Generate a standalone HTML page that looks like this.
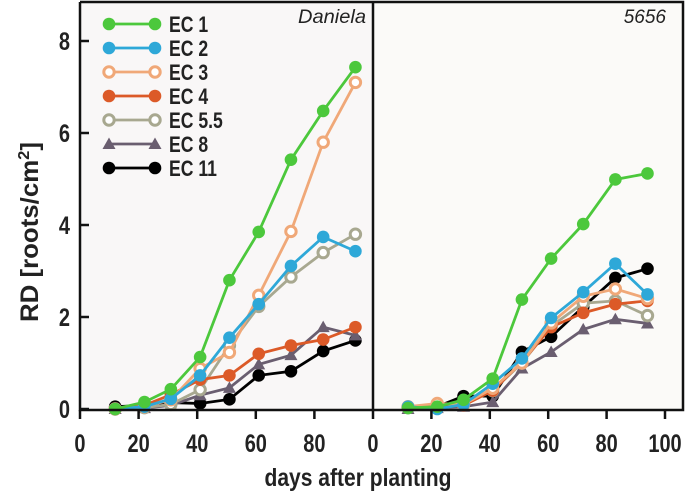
<!DOCTYPE html>
<html><head><meta charset="utf-8"><style>
html,body{margin:0;padding:0;background:#fff;}
svg{display:block;font-family:"Liberation Sans",Arial,sans-serif;}
</style></head><body>
<svg id="chart" width="685" height="496" viewBox="0 0 685 496">
<rect x="80" y="2" width="293" height="408" fill="#f9f7f7"/>
<rect x="373" y="2" width="310" height="408" fill="#fbfaf8"/>
<g id="marks"></g>
<g id="axes" stroke="#111" stroke-width="2.5" fill="none">
<path d="M80,2 V410 H683 V2 H80"/>
<line x1="373" y1="2" x2="373" y2="410"/>
</g>
<g id="ticks"></g>
<text x="366" y="23" text-anchor="end" font-style="italic" font-size="19" fill="#222" textLength="68" lengthAdjust="spacingAndGlyphs">Daniela</text>
<text x="666" y="23" text-anchor="end" font-style="italic" font-size="19" fill="#222">5656</text>
<text transform="translate(38,232) rotate(-90)" text-anchor="middle" font-weight="bold" font-size="25" fill="#222" textLength="180" lengthAdjust="spacingAndGlyphs">RD [roots/cm<tspan dy="-9" font-size="16">2</tspan><tspan dy="9">]</tspan></text>
<text x="358" y="486" text-anchor="middle" font-weight="bold" font-size="25" fill="#222" textLength="187" lengthAdjust="spacingAndGlyphs">days after planting</text>
<g id="legend"></g>
</svg>
<script>
const days = [12,22,31,41,51,61,72,83,94];
const seriesNames = ["EC 1","EC 2","EC 3","EC 4","EC 5.5","EC 8","EC 11"];
const colors = ["#4cc83c","#2ea8d8","#f0a878","#dc5a28","#a8a890","#6a5e70","#000000"];
const markers = ["dot","dot","open","dot","open","tri","dot"];
const leftEC1 = [0,0.15,0.43,1.13,2.8,3.85,5.42,6.48,7.43];
const leftEC2 = [0,0.05,0.22,0.73,1.55,2.28,3.11,3.74,3.43];
const leftEC3 = [0,0.05,0.2,0.88,1.23,2.47,3.86,5.8,7.1];
const leftEC4 = [0,0.08,0.31,0.64,0.73,1.2,1.38,1.51,1.78];
const leftEC55 = [0,0.03,0.1,0.42,1.38,2.23,2.87,3.4,3.8];
const leftEC8 = [0,0.02,0.08,0.3,0.46,0.97,1.17,1.78,1.6];
const leftEC11 = [0.05,0.08,0.14,0.12,0.21,0.73,0.82,1.26,1.49];
const rightEC1 = [0.02,0.05,0.2,0.66,2.38,3.27,4.02,4.99,5.12];
const rightEC2 = [0.05,0,0.1,0.55,1.1,1.98,2.54,3.16,2.49];
const rightEC3 = [0.05,0.12,0.1,0.45,1.0,1.87,2.45,2.61,2.4];
const rightEC4 = [0.03,0.05,0.08,0.4,1.02,1.78,2.09,2.28,2.35];
const rightEC55 = [0.03,0.05,0.1,0.4,1.0,1.8,2.3,2.35,2.03];
const rightEC8 = [0,0.02,0.05,0.15,0.88,1.24,1.73,1.95,1.86];
const rightEC11 = [0.03,0.05,0.28,0.28,1.24,1.57,2.22,2.85,3.05];
const xTicksLeft = [0,20,40,60,80];
const xTicksRight = [0,20,40,60,80,100];
const yTicks = [0,2,4,6,8];

const NS="http://www.w3.org/2000/svg";
const xL=d=>80+d*2.93, xR=d=>373+d*2.92, y=v=>409-v*46;
function mk(tag,attrs,parent){const e=document.createElementNS(NS,tag);for(const k in attrs)e.setAttribute(k,attrs[k]);parent.appendChild(e);return e;}
const marks=document.getElementById('marks'), ticks=document.getElementById('ticks'), legend=document.getElementById('legend');
function marker(g,type,cx,cy,c){
  let e;
  if(type==="tri"){e=mk('polygon',{points:`${cx},${cy-6.5} ${cx-6.5},${cy+5} ${cx+6.5},${cy+5}`,fill:c},g);}
  else if(type==="open"){e=mk('circle',{cx,cy,r:5.2,fill:"#fff",stroke:c,"stroke-width":3},g);}
  else{e=mk('circle',{cx,cy,r:6.3,fill:c},g);}
  
  
}
function drawPanel(sets,xf,panel){
  for(let s=sets.length-1;s>=0;s--){
    const g=mk('g',{},marks);
    
    
    const pts=days.map((d,i)=>xf(d)+','+y(sets[s][i])).join(' ');
    const l=mk('polyline',{points:pts,fill:"none",stroke:colors[s],"stroke-width":2.8},g);
    
    
    days.forEach((d,i)=>marker(g,markers[s],xf(d),y(sets[s][i]),colors[s]));
  }
}
drawPanel([leftEC1,leftEC2,leftEC3,leftEC4,leftEC55,leftEC8,leftEC11],xL,'left');
drawPanel([rightEC1,rightEC2,rightEC3,rightEC4,rightEC55,rightEC8,rightEC11],xR,'right');
function narrowText(parent,x,yy,str,size,anchor){
  const g=mk('g',{transform:`translate(${x},${yy}) scale(0.8,1)`},parent);
  const t=mk('text',{x:0,y:0,"text-anchor":anchor,"font-weight":"bold","font-size":size,fill:"#222"},g);
  t.textContent=str;
  return t;
}
function xt(list,xf,panel){list.forEach(t=>{
  const l=mk('line',{x1:xf(t),x2:xf(t),y1:410,y2:419,stroke:"#111","stroke-width":2.5},ticks);
  
  
  const tx=narrowText(ticks,xf(t),452,String(t),25,"middle");
  
  
});}
xt(xTicksLeft,xL,'left');xt(xTicksRight,xR,'right');
yTicks.forEach(t=>{
  const l=mk('line',{x1:80,x2:89,y1:y(t),y2:y(t),stroke:"#111","stroke-width":2.5},ticks);
  
  
  const tx=narrowText(ticks,70,y(t)+9,String(t),25,"end");
  
  
});
seriesNames.forEach((n,i)=>{
  const yy=24+i*24;
  const g=mk('g',{},legend);
  
  
  mk('line',{x1:109,x2:155,y1:yy,y2:yy,stroke:colors[i],"stroke-width":2.8},g);
  marker(g,markers[i],109,yy,colors[i]);marker(g,markers[i],155,yy,colors[i]);
  narrowText(g,169,yy+8,n,22,"start");
});
</script>
</body></html>
